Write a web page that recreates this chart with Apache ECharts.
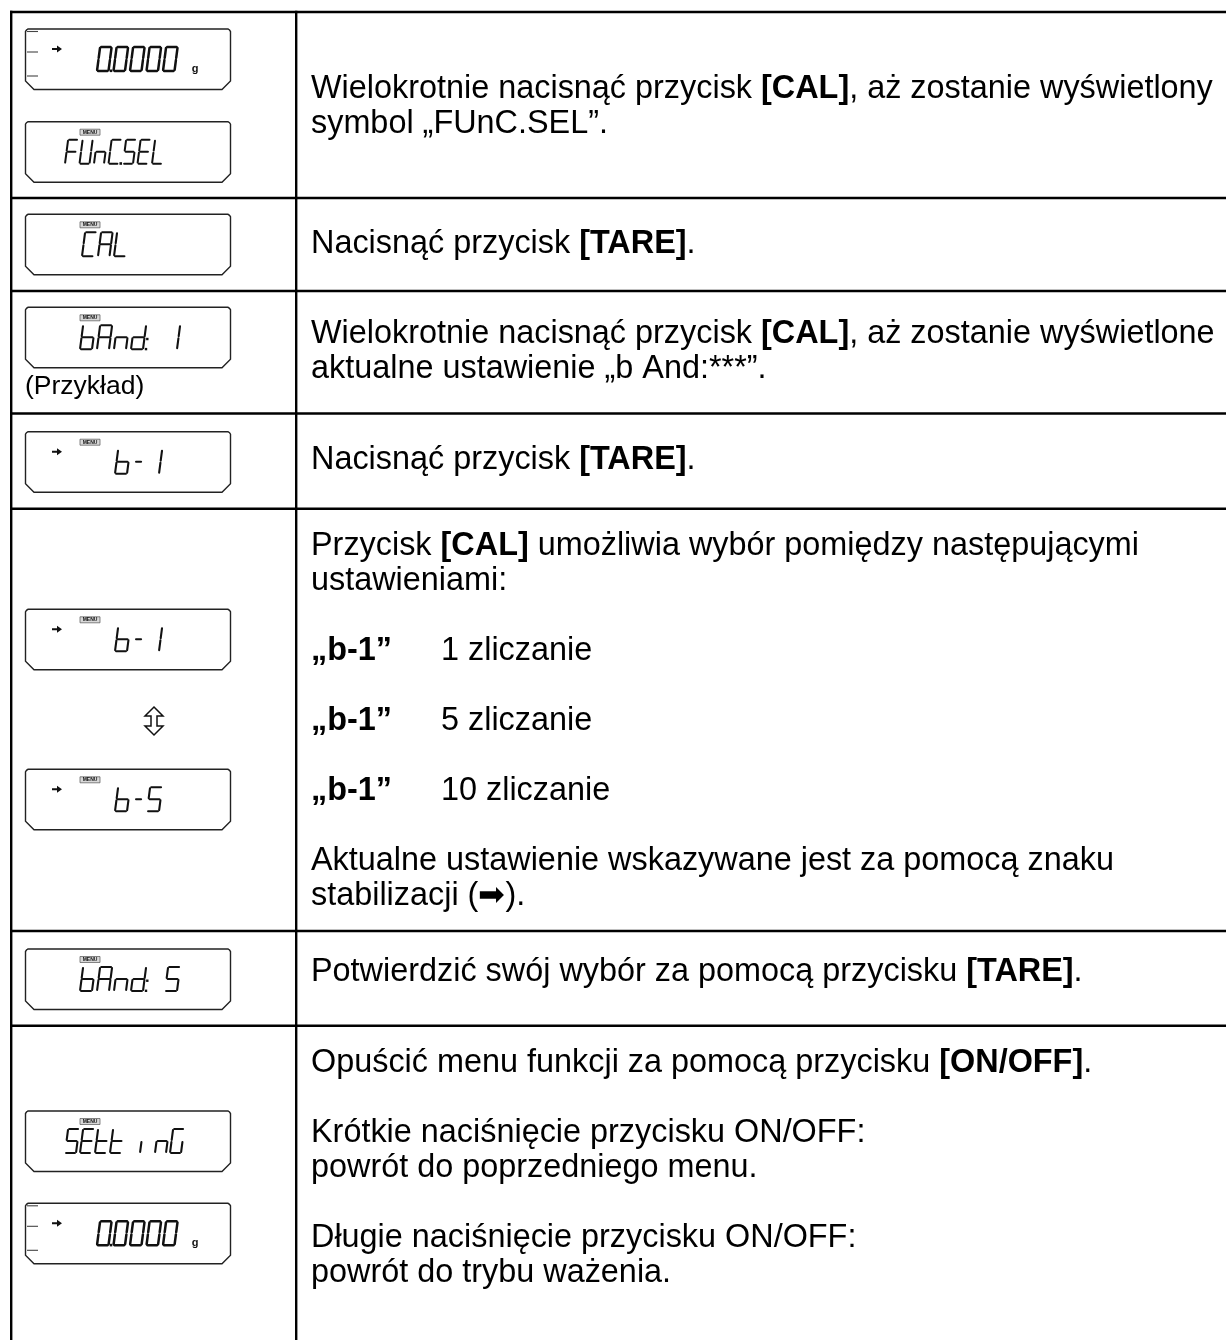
<!DOCTYPE html>
<html><head><meta charset="utf-8">
<script src="https://cdn.jsdelivr.net/npm/echarts@6/dist/echarts.min.js"></script>
<style>html,body{margin:0;padding:0;background:#fff}#c{width:1226px;height:1340px}</style>
</head><body><div id="c"></div>
<script>
// ---------- content ----------
const displayTexts = ['0.0000', 'FUnC.SEL', 'CAL', 'bAnd: 1', 'b-1', 'b-1', 'b-5', 'bAnd: 5', 'SEtt inG', '0.0000'];
const displayMenu  = [false, true, true, true, true, true, true, true, true, false];
const displayArrow = [true, false, false, false, true, true, true, false, false, true];
const displayUnit  = ['g', '', '', '', '', '', '', '', '', 'g'];
const exampleLabel = '(Przykład)';
const rowTexts = [
  ['Wielokrotnie nacisnąć przycisk {b|[CAL]}, aż zostanie wyświetlony', 'symbol „FUnC.SEL”.'],
  ['Nacisnąć przycisk {b|[TARE]}.'],
  ['Wielokrotnie nacisnąć przycisk {b|[CAL]}, aż zostanie wyświetlone', 'aktualne ustawienie „b And:***”.'],
  ['Nacisnąć przycisk {b|[TARE]}.'],
  ['Przycisk {b|[CAL]} umożliwia wybór pomiędzy następującymi', 'ustawieniami:', '{b|„b-1”}', '{b|„b-1”}', '{b|„b-1”}',
   'Aktualne ustawienie wskazywane jest za pomocą znaku', 'stabilizacji (➡).'],
  ['Potwierdzić swój wybór za pomocą przycisku {b|[TARE]}.'],
  ['Opuścić menu funkcji za pomocą przycisku {b|[ON/OFF]}.', 'Krótkie naciśnięcie przycisku ON/OFF:', 'powrót do poprzedniego menu.',
   'Długie naciśnięcie przycisku ON/OFF:', 'powrót do trybu ważenia.']
];
const optionValues = ['1 zliczanie', '5 zliczanie', '10 zliczanie'];

// ---------- layout ----------
const W = 1226, H = 1340;
const rowLines = [12, 198, 291, 413.5, 508.7, 931, 1025.7];
const xLeft = 11.2, xDiv = 296.2, textX = 311, tabX = 441;
const rowLineY = [
  [89, 124], [244], [334.5, 369.5], [460],
  [546.5, 581.5, 651.5, 721.5, 791.5, 861.5, 896.5],
  [972], [1063.5, 1133.5, 1168.5, 1238.5, 1273.5]
];
const optionRowLine = [2, 3, 4];
const dispLayout = [
  {top: 29,    x: 97,  pitch: 16.5, w: 11.5, lw: 2.5},
  {top: 121.7, x: 65,  pitch: 14.5, w: 10,   lw: 2.0},
  {top: 214.3, x: 82,  pitch: 16,   w: 11.5, lw: 2.1},
  {top: 307.3, x: 80,  pitch: 17,   w: 12,   lw: 2.1},
  {top: 431.7, x: 115, pitch: 16,   w: 12,   lw: 2.1},
  {top: 609.3, x: 115, pitch: 16,   w: 12,   lw: 2.1},
  {top: 769.3, x: 115, pitch: 16,   w: 12,   lw: 2.1},
  {top: 949,   x: 80,  pitch: 17,   w: 12,   lw: 2.1},
  {top: 1111,  x: 65,  pitch: 15,   w: 11,   lw: 2.1},
  {top: 1203.3,x: 97,  pitch: 16.5, w: 11.5, lw: 2.5}
];
const box = {left: 25.5, right: 230.5, h: 60.5, cham: 8.5};
const FONT = "'Liberation Sans', Arial, sans-serif";
const FS = 32.4;

const SEG = {
  '0':'abcdef','1':'bc','5':'acdfg','S':'acdfg','F':'aefg','U':'bcdef','n':'ceg','C':'adef',
  'E':'adefg','L':'def','A':'abcefg','b':'cdefg','d':'bcdeg','t':'defg','i':'e','G':'acdef','-':'g',' ':''
};

const els = [];
function line(x1, y1, x2, y2, lw, color, cap) {
  els.push({type: 'line', silent: true, shape: {x1, y1, x2, y2},
    style: {stroke: color || '#000', lineWidth: lw || 2.4, lineCap: cap || 'butt'}});
}

// table grid
rowLines.forEach(y => line(xLeft - 1.2, y, W, y, 2.4));
line(xLeft, rowLines[0] - 1.2, xLeft, H, 2.4);
line(xDiv, rowLines[0] - 1.2, xDiv, H, 2.4);

// LCD displays
function drawDisplay(i) {
  const L = dispLayout[i], T = L.top;
  const b = T + box.h, c = box.cham, l = box.left, r = box.right;
  els.push({type: 'polygon', silent: true,
    shape: {points: [[l, T + 2.5], [l + 1, T + 1], [l + 2.5, T], [r - 2.5, T], [r - 1, T + 1], [r, T + 2.5], [r, b - c], [r - c, b], [l + c, b], [l, b - c]]},
    style: {fill: '#fff', stroke: '#222', lineWidth: 1.4}});
  const h = 24, top = T + 18, sk = 0.13, gp = 1.1, lw = L.lw;
  const text = displayTexts[i];
  let x0 = L.x, prevX = null;
  const P = (xx, u, v) => [xx + u + sk * (h - v), top + v];
  for (const ch of text) {
    if (ch === '.') {
      const p = P(prevX, L.w + (L.pitch - L.w) / 2, h);
      els.push({type: 'rect', silent: true, shape: {x: p[0] - 1.3, y: p[1] - 1.5, width: 2.6, height: 2.6}, style: {fill: '#111'}});
      continue;
    }
    if (ch === ':') {
      [h * 0.58, h].forEach(v => {
        const p = P(prevX, L.w + 3, v);
        els.push({type: 'rect', silent: true, shape: {x: p[0] - 1.2, y: p[1] - 1.4, width: 2.4, height: 2.4}, style: {fill: '#111'}});
      });
      continue;
    }
    const w = L.w, segs = SEG[ch] || '';
    const ins = ch === '-' ? 3.5 : gp;
    const S = {
      a: [[gp, 0], [w - gp, 0]], b: [[w, gp], [w, h / 2 - gp]], c: [[w, h / 2 + gp], [w, h - gp]],
      d: [[gp, h], [w - gp, h]], e: [[0, h / 2 + gp], [0, h - gp]], f: [[0, gp], [0, h / 2 - gp]],
      g: [[ins, h / 2], [w - ins, h / 2]]
    };
    for (const s of segs) {
      const p1 = P(x0, S[s][0][0], S[s][0][1]), p2 = P(x0, S[s][1][0], S[s][1][1]);
      line(p1[0], p1[1], p2[0], p2[1], lw, '#111', 'round');
    }
    prevX = x0;
    x0 += L.pitch;
  }
  if (displayMenu[i]) {
    els.push({type: 'rect', silent: true, shape: {x: 80, y: T + 7.5, width: 20, height: 6},
      style: {fill: '#d8d8d8', stroke: '#555', lineWidth: 0.7}});
    els.push({type: 'text', silent: true, x: 90, y: T + 10.7,
      style: {text: 'MENU', fontSize: 5, fontWeight: 'bold', fontFamily: FONT, fill: '#111', align: 'center', verticalAlign: 'middle'}});
  }
  if (displayArrow[i]) {
    const y = T + 20;
    els.push({type: 'polygon', silent: true,
      shape: {points: [[52, y - 1], [57, y - 1], [57, y - 3.5], [62, y], [57, y + 3.5], [57, y + 1], [52, y + 1]]},
      style: {fill: '#111'}});
  }
  if (displayUnit[i]) {
    els.push({type: 'text', silent: true, x: 195, y: T + 40,
      style: {text: displayUnit[i], fontSize: 11, fontWeight: 'bold', fontFamily: FONT, fill: '#111', align: 'center', verticalAlign: 'middle'}});
    [2.5, 23, 47].forEach(o => line(27, T + o, 38, T + o, 1.1, '#444'));
  }
}
displayTexts.forEach((_, i) => drawDisplay(i));

// example label
els.push({type: 'text', silent: true, x: 25, y: 387,
  style: {text: exampleLabel, fontSize: 26.5, fontFamily: FONT, fill: '#000', align: 'left', verticalAlign: 'middle'}});

// up-down white arrow
(function () {
  const cx = 154, t = 707, bt = 735;
  els.push({type: 'polygon', silent: true,
    shape: {points: [[cx, t], [cx + 9, t + 9], [cx + 3, t + 9], [cx + 3, bt - 9], [cx + 9, bt - 9], [cx, bt],
      [cx - 9, bt - 9], [cx - 3, bt - 9], [cx - 3, t + 9], [cx - 9, t + 9]]},
    style: {fill: '#fff', stroke: '#111', lineWidth: 1.5}});
})();

// right column texts
const rich = {b: {fontWeight: 'bold', fontSize: FS, fontFamily: FONT, fill: '#000'}};
rowTexts.forEach((lines, r) => {
  lines.forEach((t, k) => {
    els.push({type: 'text', silent: true, x: textX, y: rowLineY[r][k],
      style: {text: t, fontSize: FS, fontFamily: FONT, fill: '#000', align: 'left', verticalAlign: 'middle', rich}});
  });
});
optionValues.forEach((t, k) => {
  els.push({type: 'text', silent: true, x: tabX, y: rowLineY[4][optionRowLine[k]],
    style: {text: t, fontSize: FS, fontFamily: FONT, fill: '#000', align: 'left', verticalAlign: 'middle'}});
});

const chart = echarts.init(document.getElementById('c'), null, {renderer: 'canvas', width: W, height: H});
chart.setOption({animation: false, backgroundColor: '#fff', graphic: {elements: els}});
</script></body></html>
